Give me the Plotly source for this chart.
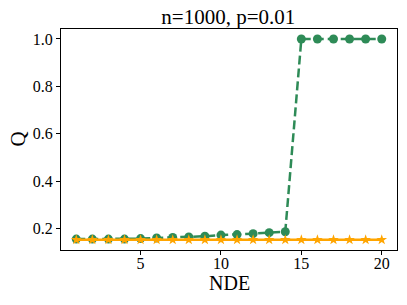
import plotly.graph_objects as go

nde = list(range(1, 21))
q_green = [0.156, 0.156, 0.156, 0.156, 0.158, 0.161, 0.163, 0.165, 0.168, 0.173,
           0.175, 0.179, 0.183, 0.187, 1.0, 1.0, 1.0, 1.0, 1.0, 1.0]
q_orange = [0.153] * 20

fig = go.Figure()
fig.add_trace(go.Scatter(x=nde, y=q_green, mode="lines+markers",
                         line=dict(color="#2e8b57", width=2.5, dash="9px,4px"),
                         marker=dict(symbol="circle", size=9, color="#2e8b57"),
                         showlegend=False))
fig.add_trace(go.Scatter(x=nde, y=q_orange, mode="lines+markers",
                         line=dict(color="#ffa500", width=2.5),
                         marker=dict(symbol="star", size=8, color="#ffa500"),
                         showlegend=False))

font = "Liberation Serif, Times New Roman, serif"
fig.update_layout(
    width=407, height=305,
    margin=dict(l=61, r=10, t=29, b=55),
    paper_bgcolor="white", plot_bgcolor="white",
    font=dict(family=font, color="black", size=16),
    title=dict(text="n=1000, p=0.01", x=0.561, xanchor="center", y=0.945, yanchor="middle",
               font=dict(size=21, family=font)),
    xaxis=dict(range=[0.05, 20.95], tickvals=[5, 10, 15, 20], showgrid=False, zeroline=False,
               showline=True, linecolor="black", linewidth=1, mirror=True,
               ticks="outside", ticklen=4, tickcolor="black", automargin=False,
               ticklabelstandoff=-5),
    yaxis=dict(range=[0.11, 1.042], tickvals=[0.2, 0.4, 0.6, 0.8, 1.0], ticktext=["0.2", "0.4", "0.6", "0.8", "1.0"],
               showgrid=False, zeroline=False,
               showline=True, linecolor="black", linewidth=1, mirror=True,
               ticks="outside", ticklen=4, tickcolor="black", automargin=False),
    annotations=[
        dict(text="NDE", xref="paper", yref="paper", x=0.5, y=0, xanchor="center", yanchor="middle",
             yshift=-33, showarrow=False, font=dict(size=20, family=font)),
        dict(text="Q", xref="paper", yref="paper", x=0, y=0.5, xanchor="center", yanchor="middle",
             xshift=-44, textangle=-90, showarrow=False, font=dict(size=21, family=font)),
    ],
)
fig.write_html("out.html", config={"displayModeBar": False},
               post_script="document.body.style.margin='0';document.body.style.overflow='hidden';")
